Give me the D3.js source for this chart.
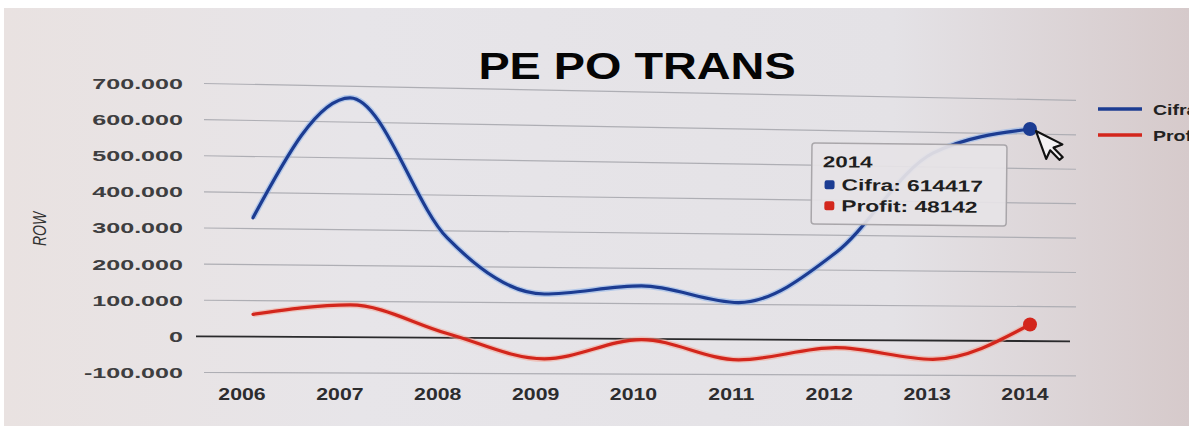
<!DOCTYPE html>
<html>
<head>
<meta charset="utf-8">
<script src="https://cdn.jsdelivr.net/npm/d3@7"></script>
<style>
  html, body { margin: 0; padding: 0; background: #fff; }
  svg { display: block; font-family: "Liberation Sans", Arial, sans-serif; }
</style>
</head>
<body>
<svg id="chart" width="1189" height="426"></svg>
<script>
// values
var years = [2006, 2007, 2008, 2009, 2010, 2011, 2012, 2013, 2014];
var cifra = [330000, 668000, 280000, 125000, 150000, 105000, 250000, 540000, 614417];
var profit = [62000, 90000, 12000, -58000, -2000, -58000, -22000, -54000, 48142];
var yTicks = [-100000, 0, 100000, 200000, 300000, 400000, 500000, 600000, 700000];
var seriesNames = ["Cifra", "Profit"];
var seriesColors = ["#1c3c92", "#d3261c"];
var hoverYear = 2014;

var W = 1189, H = 426;
var svg = d3.select("#chart");

// photo background, a bit warmer on the right
var defs = svg.append("defs");
var grad = defs.append("linearGradient").attr("id", "bg").attr("x1", 0).attr("x2", 1).attr("y1", 0).attr("y2", 0);
grad.append("stop").attr("offset", "0%").attr("stop-color", "#e9e2e1");
grad.append("stop").attr("offset", "30%").attr("stop-color", "#e7e5e9");
grad.append("stop").attr("offset", "75%").attr("stop-color", "#e4e2e6");
grad.append("stop").attr("offset", "100%").attr("stop-color", "#d6cacb");
svg.append("rect").attr("x", 4).attr("y", 8).attr("width", W - 4).attr("height", H - 8).attr("fill", "url(#bg)");

// text in the photo is wider than it is tall
function stretchText(sel, x, y, txt, sx, anchor){
	return sel.append("text")
		.attr("transform", "translate(" + x + "," + y + ") scale(" + sx + ",1)")
		.attr("text-anchor", anchor || "start")
		.text(txt);
}

var x = d3.scalePoint().domain(years).range([253, 1030]);
var xLab = d3.scalePoint().domain(years).range([242, 1025]);
var y = d3.scaleLinear().domain([-100000, 700000]).range([372.5, 83.4]);
var plotL = 204, plotR = 1076;

// the photo was taken at an angle: the plot drops and narrows to the right
function warp(px, py){
	var k = (px - 200) / 876;
	return [px, py + k * (17 - 0.0474 * (py - 83))];
}

var fmt = d3.formatLocale({decimal: ",", thousands: ".", grouping: [3], currency: ["", ""], minus: "-"}).format(",d");

// title
svg.append("g").attr("font-weight", "bold").attr("font-size", 36).attr("fill", "#050505")
	.call(function(g){ stretchText(g, 637, 79, "PE PO TRANS", 1.3, "middle"); });

// y axis labels
var yl = svg.append("g").attr("font-size", 15.5).attr("font-weight", "bold").attr("fill", "#3e3e40");
yTicks.forEach(function(t){
	stretchText(yl, 183, y(t) + 5.5, fmt(t), 1.62, "end");
});

// axis title
svg.append("text")
	.attr("transform", "translate(46,229) rotate(-90) scale(1,1.25)")
	.attr("text-anchor", "middle")
	.attr("font-size", 14).attr("font-style", "italic").attr("fill", "#333")
	.text("ROW");

// x labels
var xl = svg.append("g").attr("font-size", 16).attr("font-weight", "bold").attr("fill", "#2c2c2e");
years.forEach(function(yr){
	stretchText(xl, xLab(yr), 400, String(yr), 1.33, "middle");
});

var plot = svg.append("g");
var seg = d3.line();

plot.append("g").selectAll("path")
	.data(yTicks.filter(function(t){ return t !== 0; }))
	.join("path")
		.attr("d", function(d){ return seg([warp(plotL, y(d)), warp(plotR, y(d))]); })
		.attr("stroke", "#aeaeb4").attr("stroke-width", 1.2).attr("fill", "none");

plot.append("path")
	.attr("d", seg([warp(196, y(0)), warp(plotR - 6, y(0))]))
	.attr("stroke", "#2a2a2c").attr("stroke-width", 1.8);

var line = d3.line().curve(d3.curveMonotoneX);
function pts(vals){
	return vals.map(function(v, i){ return warp(x(years[i]), y(v)); });
}

var glow = ["#8db3ea", "#f2a596"];
[cifra, profit].forEach(function(vals, s){
	plot.append("path").attr("d", line(pts(vals))).attr("fill", "none")
		.attr("stroke", glow[s]).attr("stroke-width", 6).attr("opacity", 0.55);
	plot.append("path").attr("d", line(pts(vals))).attr("fill", "none")
		.attr("stroke", seriesColors[s]).attr("stroke-width", 3.2)
		.attr("stroke-linecap", "round");
});

// hovered points
var hi = years.indexOf(hoverYear);
[cifra, profit].forEach(function(vals, s){
	var p = warp(x(hoverYear), y(vals[hi]));
	plot.append("circle")
		.attr("cx", p[0]).attr("cy", p[1]).attr("r", 7)
		.attr("fill", seriesColors[s]);
});

// tooltip
var hp = warp(x(hoverYear), y(cifra[hi]));
var tip = plot.append("g").attr("transform", "translate(" + (hp[0] - 218) + "," + (hp[1] + 14) + ") rotate(0.6)");
tip.append("rect").attr("width", 195).attr("height", 81).attr("rx", 3)
	.attr("fill", "#e6e3e6").attr("fill-opacity", 0.93)
	.attr("stroke", "#a9a6aa").attr("stroke-width", 1.5);
var tt = tip.append("g").attr("font-weight", "bold").attr("fill", "#1e1e20").attr("font-size", 16);
stretchText(tt, 11, 24, String(hoverYear), 1.4);
[cifra, profit].forEach(function(vals, s){
	var ly = 47 + s * 21;
	tip.append("rect").attr("x", 13).attr("y", ly - 10).attr("width", 10).attr("height", 9).attr("rx", 2)
		.attr("fill", seriesColors[s]);
	stretchText(tt, 30, ly, seriesNames[s] + ": " + vals[hi], 1.42);
});

// mouse cursor over the point
svg.append("path")
	.attr("transform", "translate(" + (hp[0] + 6) + "," + (hp[1] + 2) + ") rotate(-20) scale(1.35)")
	.attr("d", "M0,0 L0,22 L5,17 L9,26 L12,25 L8,16 L15,16 Z")
	.attr("fill", "#f4f2f4").attr("stroke", "#111").attr("stroke-width", 1.6)
	.attr("stroke-linejoin", "round");

// legend, cut by the edge of the photo
var lg = svg.append("g");
seriesNames.forEach(function(n, s){
	var ly = 109 + s * 26;
	lg.append("line").attr("x1", 1098).attr("x2", 1142).attr("y1", ly).attr("y2", ly)
		.attr("stroke", seriesColors[s]).attr("stroke-width", 3.5);
	var t = lg.append("g").attr("font-size", 15).attr("font-weight", "bold").attr("fill", "#222");
	stretchText(t, 1153, ly + 6, n, 1.3);
});
</script>
</body>
</html>
